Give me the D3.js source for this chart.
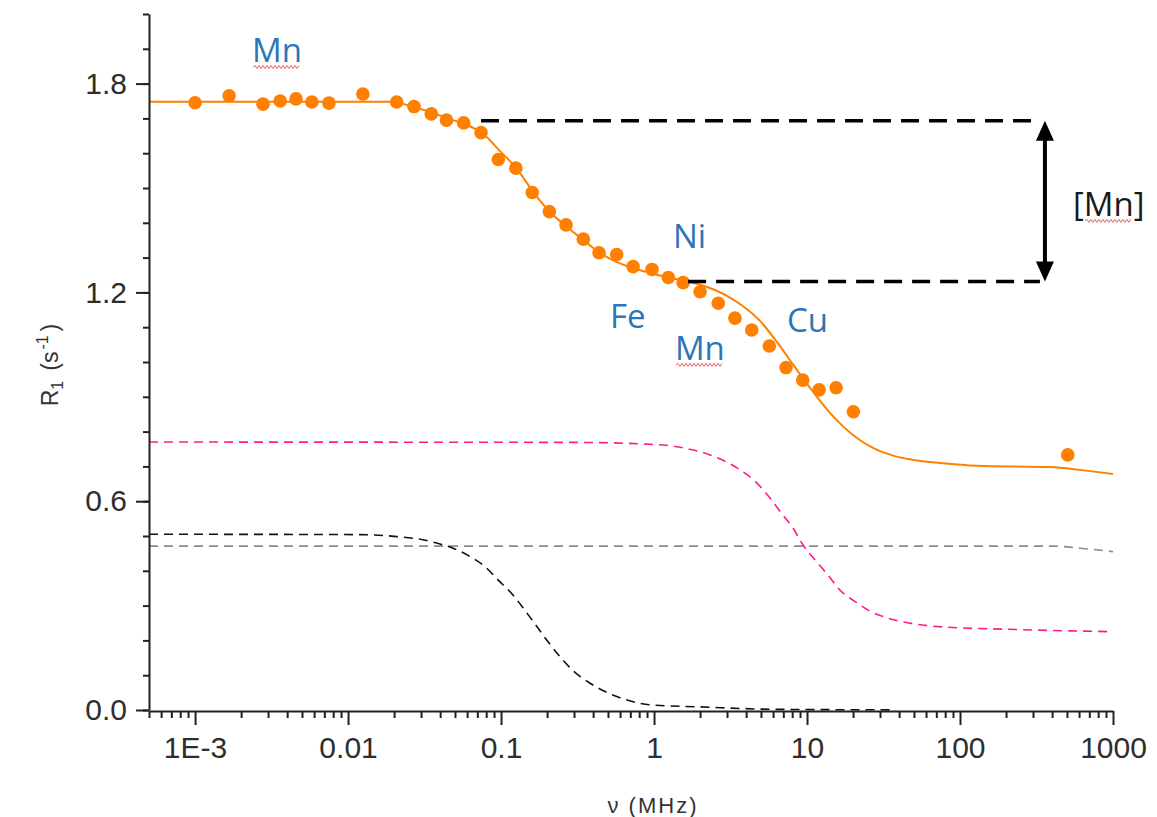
<!DOCTYPE html>
<html>
<head>
<meta charset="utf-8">
<script src="https://cdn.jsdelivr.net/npm/d3@7/dist/d3.min.js"></script>
<style>
  body { margin: 0; background: #fff; }
  svg { display: block; }
</style>
</head>
<body>
<svg></svg>
<script>
const width = 1157;
const height = 817;

// measured points (MHz, s^-1)
const freq = [0.001, 0.00167, 0.00278, 0.0036, 0.00457, 0.0058, 0.0075, 0.0125, 0.0208, 0.027, 0.035, 0.044, 0.057, 0.074, 0.096, 0.125, 0.16, 0.207, 0.266, 0.345, 0.437, 0.57, 0.73, 0.97, 1.24, 1.55, 2.0, 2.63, 3.38, 4.35, 5.67, 7.29, 9.37, 12.0, 15.5, 20.1, 506];
const r1 = [1.745, 1.765, 1.741, 1.750, 1.756, 1.747, 1.744, 1.770, 1.747, 1.734, 1.713, 1.695, 1.687, 1.659, 1.582, 1.557, 1.487, 1.432, 1.394, 1.353, 1.314, 1.309, 1.274, 1.266, 1.243, 1.228, 1.202, 1.169, 1.126, 1.092, 1.046, 0.984, 0.948, 0.920, 0.926, 0.857, 0.733];

// total fit
const fitFreq = [0.0005, 0.0188, 0.0283, 0.036, 0.0464, 0.060, 0.0763, 0.0985, 0.127, 0.162, 0.209, 0.270, 0.344, 0.444, 0.573, 0.729, 0.942, 1.22, 1.55, 2.0, 2.5, 3.0, 3.82, 4.93, 6.37, 8.10, 10.5, 13.5, 17.2, 22.2, 27.0, 36.5, 52.4, 74.0, 129, 387, 608, 1000];
const fitR1 = [1.748, 1.748, 1.730, 1.716, 1.698, 1.681, 1.656, 1.606, 1.555, 1.489, 1.431, 1.388, 1.351, 1.313, 1.287, 1.270, 1.256, 1.244, 1.234, 1.222, 1.207, 1.190, 1.160, 1.118, 1.057, 0.993, 0.925, 0.864, 0.815, 0.775, 0.753, 0.731, 0.717, 0.710, 0.702, 0.698, 0.690, 0.678];

// components
const pinkFreq = [0.0005, 0.3, 0.9, 1.48, 2.32, 3.65, 4.71, 5.73, 6.87, 8.10, 9.42, 11.3, 13.7, 16.4, 21.2, 25.8, 33.3, 52.4, 82.2, 203, 1000];
const pinkR1 = [0.770, 0.769, 0.764, 0.755, 0.733, 0.690, 0.652, 0.609, 0.563, 0.523, 0.474, 0.431, 0.388, 0.345, 0.308, 0.284, 0.265, 0.246, 0.238, 0.232, 0.225];

const grayFreq = [0.0005, 405, 608, 1000];
const grayR1 = [0.471, 0.471, 0.465, 0.455];

const blackFreq = [0.0005, 0.012, 0.02, 0.0309, 0.0399, 0.0486, 0.0627, 0.0786, 0.0955, 0.120, 0.144, 0.172, 0.203, 0.243, 0.296, 0.382, 0.479, 0.600, 0.774, 1.0, 2.0, 6.0, 34.8];
const blackR1 = [0.505, 0.504, 0.499, 0.489, 0.477, 0.465, 0.441, 0.412, 0.374, 0.330, 0.285, 0.239, 0.196, 0.153, 0.113, 0.077, 0.053, 0.035, 0.021, 0.014, 0.009, 0.002, 0.0005];

const xTickValues = [0.001, 0.01, 0.1, 1, 10, 100, 1000];
const xTickLabels = ["1E-3", "0.01", "0.1", "1", "10", "100", "1000"];
const yTickValues = [0, 0.6, 1.2, 1.8];
const yTickLabels = ["0.0", "0.6", "1.2", "1.8"];

// [Mn] bracket: levels, start freqs, end freq, arrow freq
const bracketLevels = [1.693, 1.231];
const bracketStart = [0.074, 1.67];
const bracketEnd = 333;
const arrowFreq = 359;

// text labels: [text, freq, value, underline?, colour]
const notes = [
  ["Mn", 0.00236, 1.862, true, "#2E75B6"],
  ["Ni", 1.33, 1.328, false, "#2E75B6"],
  ["Fe", 0.515, 1.098, false, "#2E75B6"],
  ["Mn", 1.37, 1.006, true, "#2E75B6"],
  ["Cu", 7.4, 1.086, false, "#2E75B6"]
];

const svg = d3.select("svg")
  .attr("width", width)
  .attr("height", height);

const x = d3.scaleLog().domain([0.0005, 1000]).range([149, 1113]);
const y = d3.scaleLinear().domain([0, 2]).range([710, 14]);

const axisColor = "#222";
const fontAxis = "Arial, 'Liberation Sans', sans-serif";
const fontNote = "'Open Sans', 'Noto Sans', sans-serif";

// component curves
const line = d3.line()
  .x(d => x(d[0]))
  .y(d => y(d[1]))
  .curve(d3.curveMonotoneX);

function curve(fs, vs, color, dash, w) {
  svg.append("path")
    .datum(fs.map((f, i) => [f, vs[i]]))
    .attr("d", line)
    .attr("fill", "none")
    .attr("stroke", color)
    .attr("stroke-width", w)
    .attr("stroke-dasharray", dash);
}

curve(grayFreq, grayR1, "#8a8a8a", "9,6", 1.6);
curve(pinkFreq, pinkR1, "#FF1A8C", "9,6", 1.6);
curve(blackFreq, blackR1, "#111", "9,6", 1.6);
curve(fitFreq, fitR1, "#FF8000", null, 2);

// data points
svg.append("g")
  .selectAll("circle")
  .data(freq.map((f, i) => [f, r1[i]]))
  .enter()
  .append("circle")
  .attr("cx", d => x(d[0]))
  .attr("cy", d => y(d[1]))
  .attr("r", 6.8)
  .attr("fill", "#FF8000");

// axes
const minorX = x.ticks().filter(v => !xTickValues.some(t => Math.abs(t - v) / t < 1e-6));

const xAxisY = 711;
const gx = svg.append("g").attr("transform", `translate(0,${xAxisY})`);
gx.append("g")
  .call(d3.axisBottom(x).tickValues(minorX).tickSize(7).tickSizeOuter(0).tickFormat(""))
  .call(g => g.select(".domain").remove());
gx.append("g")
  .call(d3.axisBottom(x).tickValues(xTickValues).tickSize(14).tickSizeOuter(0).tickPadding(12)
    .tickFormat((d, i) => xTickLabels[i]));

const gy = svg.append("g").attr("transform", "translate(149,0)");
gy.append("g")
  .call(d3.axisLeft(y).tickValues(d3.range(0, 2.001, 0.1)).tickSize(6).tickSizeOuter(0).tickFormat(""))
  .call(g => g.select(".domain").remove());
gy.append("g")
  .call(d3.axisLeft(y).tickValues(yTickValues).tickSize(13).tickSizeOuter(0).tickPadding(9)
    .tickFormat((d, i) => yTickLabels[i]));

svg.selectAll(".tick line, .domain")
  .attr("stroke", axisColor)
  .attr("stroke-width", 2);
svg.selectAll(".tick text")
  .attr("font-family", fontAxis)
  .attr("font-size", 30)
  .attr("fill", "#2e2e2e");

// axis titles
svg.append("text")
  .attr("x", 653)
  .attr("y", 813)
  .attr("text-anchor", "middle")
  .attr("font-family", fontAxis)
  .attr("font-size", 22)
  .attr("letter-spacing", 2)
  .attr("fill", "#333")
  .text("ν (MHz)");

const yt = svg.append("text")
  .attr("transform", "translate(58,365) rotate(-90)")
  .attr("text-anchor", "middle")
  .attr("font-family", fontAxis)
  .attr("font-size", 23)
  .attr("fill", "#333");
yt.append("tspan").text("R");
yt.append("tspan").attr("font-size", 16).attr("dy", 5).text("1");
yt.append("tspan").attr("dy", -5).attr("dx", 10).text("(s");
yt.append("tspan").attr("font-size", 16).attr("dy", -10).attr("dx", 2).text("-1");
yt.append("tspan").attr("dy", 10).attr("dx", 4).text(")");

// [Mn] bracket
bracketLevels.forEach((v, i) => {
  svg.append("line")
    .attr("x1", x(bracketStart[i]))
    .attr("x2", x(bracketEnd))
    .attr("y1", y(v))
    .attr("y2", y(v))
    .attr("stroke", "#000")
    .attr("stroke-width", 3.5)
    .attr("stroke-dasharray", "18,10");
});

const ax = x(arrowFreq);
const yTop = y(bracketLevels[0]);
const yBot = y(bracketLevels[1]);
svg.append("line")
  .attr("x1", ax).attr("x2", ax)
  .attr("y1", yTop + 15).attr("y2", yBot - 15)
  .attr("stroke", "#000")
  .attr("stroke-width", 4);
svg.append("path")
  .attr("d", `M${ax},${yTop} L${ax - 9},${yTop + 20} L${ax + 9},${yTop + 20} Z`)
  .attr("fill", "#000");
svg.append("path")
  .attr("d", `M${ax},${yBot} L${ax - 9},${yBot - 20} L${ax + 9},${yBot - 20} Z`)
  .attr("fill", "#000");

// red wavy spell-check underline
function wavy(x0, x1, yy) {
  let d = `M${x0},${yy}`;
  let up = true;
  for (let xx = x0 + 2; xx <= x1; xx += 2) {
    d += ` L${xx},${yy + (up ? -1.5 : 1.5)}`;
    up = !up;
  }
  svg.append("path")
    .attr("d", d)
    .attr("fill", "none")
    .attr("stroke", "#E8605F")
    .attr("stroke-width", 1);
}

notes.forEach(n => {
  const t = svg.append("text")
    .attr("x", x(n[1]))
    .attr("y", y(n[2]))
    .attr("font-family", fontNote)
    .attr("font-size", 33)
    .attr("fill", n[4])
    .text(n[0]);
  if (n[3]) {
    const bb = t.node().getBBox();
    wavy(bb.x + 1, bb.x + bb.width - 1, y(n[2]) + 5);
  }
});

// [Mn] label
const mnText = svg.append("text")
  .attr("x", x(548))
  .attr("y", y(1.420))
  .attr("font-family", fontNote)
  .attr("font-size", 33)
  .attr("fill", "#1a1a1a");
mnText.append("tspan").text("[");
const mnInner = mnText.append("tspan").text("Mn");
mnText.append("tspan").text("]");
{
  const ext = mnInner.node().getExtentOfChar(0);
  const last = mnInner.node().getExtentOfChar(1);
  wavy(ext.x + 1, last.x + last.width - 1, y(1.420) + 5);
}
</script>
</body>
</html>
